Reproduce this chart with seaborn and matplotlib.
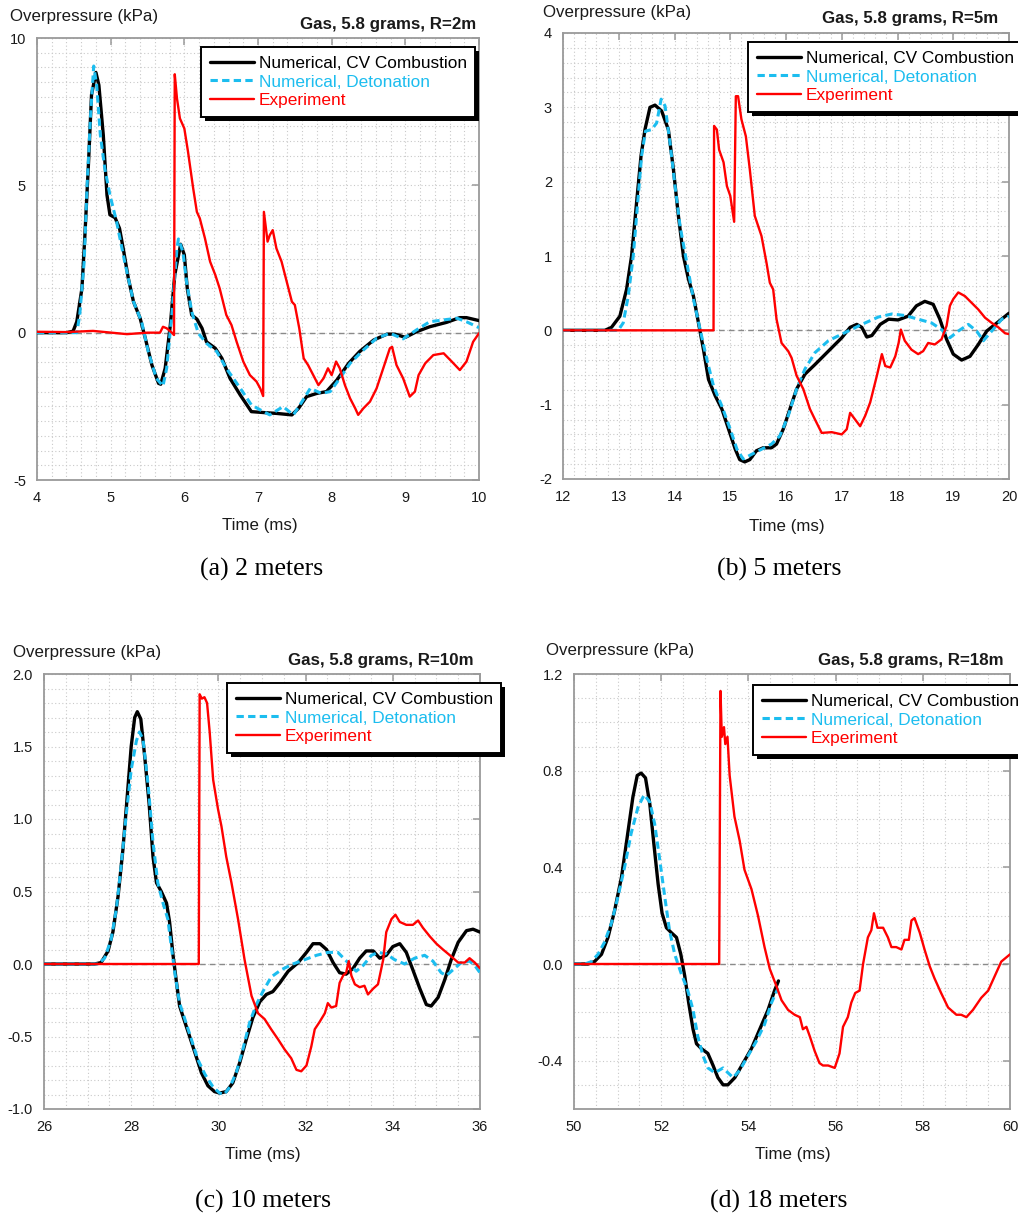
import matplotlib
matplotlib.use("Agg")
import matplotlib.pyplot as plt
import pandas as pd
import seaborn as sns
from matplotlib.ticker import MultipleLocator, FormatStrFormatter
from matplotlib.patches import Rectangle
from matplotlib.transforms import IdentityTransform

# ---------------- data ----------------
# (a) R = 2 m
a_cv_t = [4.0, 4.40, 4.49, 4.54, 4.61, 4.65, 4.70, 4.74, 4.80, 4.84, 4.90, 4.95, 4.99, 5.06, 5.12, 5.17, 5.24, 5.31, 5.40, 5.47, 5.56, 5.65, 5.68, 5.74, 5.81, 5.87, 5.95, 6.00, 6.04, 6.10, 6.17, 6.24, 6.30, 6.42, 6.51, 6.62, 6.76, 6.91, 7.07, 7.25, 7.46, 7.55, 7.66, 7.80, 7.93, 8.07, 8.23, 8.38, 8.57, 8.75, 8.86, 9.00, 9.15, 9.33, 9.56, 9.74, 9.83, 10.0]
a_cv_p = [0, 0, 0.05, 0.37, 1.5, 3.3, 5.8, 8.07, 8.83, 8.4, 6.7, 4.67, 4.0, 3.9, 3.54, 2.86, 1.84, 1.05, 0.49, -0.19, -1.1, -1.72, -1.75, -1.21, 0.26, 1.96, 3.0, 2.64, 1.5, 0.6, 0.46, 0.15, -0.31, -0.53, -0.87, -1.55, -2.12, -2.68, -2.71, -2.74, -2.79, -2.57, -2.17, -2.06, -2.0, -1.61, -1.04, -0.64, -0.25, -0.05, -0.05, -0.16, 0.03, 0.2, 0.35, 0.51, 0.51, 0.41]
a_det_t = [4.0, 4.54, 4.58, 4.64, 4.68, 4.73, 4.77, 4.81, 4.86, 4.92, 4.99, 5.08, 5.19, 5.31, 5.42, 5.51, 5.62, 5.71, 5.76, 5.83, 5.90, 5.92, 5.98, 6.03, 6.10, 6.19, 6.30, 6.44, 6.57, 6.76, 6.91, 7.03, 7.16, 7.34, 7.48, 7.57, 7.71, 7.86, 7.98, 8.11, 8.25, 8.43, 8.61, 8.79, 8.97, 9.15, 9.33, 9.51, 9.70, 9.83, 10.0]
a_det_p = [0, 0, 0.6, 2.4, 5.0, 7.5, 9.05, 8.4, 6.7, 5.58, 4.67, 3.77, 2.41, 1.05, 0.37, -0.64, -1.55, -1.81, -1.21, 0.6, 2.86, 3.18, 2.75, 1.73, 0.71, -0.02, -0.36, -0.64, -1.21, -1.89, -2.45, -2.62, -2.79, -2.51, -2.79, -2.45, -1.89, -2.06, -2.0, -1.55, -1.04, -0.59, -0.19, -0.02, -0.21, 0.09, 0.37, 0.43, 0.49, 0.37, 0.17]
a_exp_t = [4.0, 4.4, 4.76, 5.22, 5.5, 5.67, 5.71, 5.76, 5.83, 5.86, 5.87, 5.90, 5.94, 6.0, 6.05, 6.12, 6.17, 6.21, 6.28, 6.35, 6.42, 6.48, 6.57, 6.64, 6.71, 6.80, 6.89, 6.98, 7.03, 7.07, 7.08, 7.13, 7.16, 7.20, 7.25, 7.32, 7.39, 7.46, 7.50, 7.56, 7.62, 7.68, 7.75, 7.82, 7.89, 7.95, 8.0, 8.06, 8.11, 8.18, 8.25, 8.32, 8.36, 8.43, 8.52, 8.61, 8.70, 8.79, 8.82, 8.88, 8.97, 9.06, 9.13, 9.18, 9.27, 9.38, 9.52, 9.63, 9.74, 9.83, 9.92, 10.0]
a_exp_p = [0.03, 0.02, 0.06, -0.05, 0.0, 0.0, 0.2, 0.15, 0.0, -0.08, 8.77, 7.95, 7.27, 6.93, 6.14, 4.9, 4.1, 3.88, 3.2, 2.41, 1.96, 1.5, 0.6, 0.26, -0.31, -0.98, -1.44, -1.66, -1.89, -2.15, 4.1, 3.09, 3.31, 3.48, 2.86, 2.41, 1.73, 1.05, 0.94, 0.15, -0.87, -1.1, -1.44, -1.78, -1.55, -1.21, -1.44, -0.98, -1.21, -1.78, -2.23, -2.57, -2.79, -2.57, -2.34, -1.89, -1.21, -0.53, -0.48, -1.1, -1.55, -2.17, -2.0, -1.44, -1.04, -0.76, -0.70, -0.98, -1.27, -0.98, -0.31, -0.02]

# (b) R = 5 m
b_cv_t = [12.0, 12.75, 12.87, 13.02, 13.14, 13.23, 13.32, 13.40, 13.47, 13.56, 13.65, 13.77, 13.89, 13.98, 14.07, 14.16, 14.25, 14.34, 14.43, 14.52, 14.61, 14.73, 14.85, 14.97, 15.09, 15.17, 15.26, 15.35, 15.47, 15.59, 15.74, 15.83, 15.95, 16.07, 16.19, 16.34, 16.52, 16.76, 17.0, 17.15, 17.27, 17.36, 17.45, 17.54, 17.69, 17.84, 18.01, 18.19, 18.34, 18.49, 18.64, 18.76, 18.88, 19.0, 19.15, 19.30, 19.45, 19.60, 19.75, 19.90, 20.0]
b_cv_p = [0, 0, 0.04, 0.19, 0.55, 1.0, 1.72, 2.35, 2.70, 3.0, 3.03, 2.95, 2.70, 2.17, 1.54, 1.0, 0.69, 0.46, 0.10, -0.26, -0.66, -0.88, -1.06, -1.33, -1.60, -1.74, -1.77, -1.74, -1.62, -1.58, -1.58, -1.53, -1.33, -1.06, -0.79, -0.59, -0.46, -0.28, -0.10, 0.04, 0.08, 0.04, -0.09, -0.07, 0.08, 0.15, 0.14, 0.19, 0.33, 0.39, 0.35, 0.15, -0.12, -0.32, -0.40, -0.35, -0.19, -0.01, 0.08, 0.17, 0.23]
b_det_t = [12.0, 12.99, 13.08, 13.17, 13.26, 13.34, 13.41, 13.48, 13.59, 13.68, 13.76, 13.83, 13.92, 14.01, 14.10, 14.22, 14.34, 14.46, 14.58, 14.70, 14.85, 15.00, 15.12, 15.23, 15.38, 15.56, 15.74, 15.89, 16.04, 16.19, 16.34, 16.52, 16.76, 17.06, 17.36, 17.66, 17.90, 18.13, 18.37, 18.61, 18.79, 18.94, 19.09, 19.27, 19.42, 19.54, 19.69, 19.87, 20.0]
b_det_p = [0, 0, 0.10, 0.46, 1.0, 1.72, 2.35, 2.68, 2.70, 2.79, 3.11, 3.02, 2.52, 1.94, 1.40, 0.91, 0.42, 0.01, -0.39, -0.75, -1.02, -1.33, -1.60, -1.73, -1.67, -1.60, -1.53, -1.42, -1.15, -0.79, -0.52, -0.30, -0.14, -0.03, 0.08, 0.18, 0.22, 0.20, 0.15, 0.10, 0.01, -0.10, -0.01, 0.08, -0.01, -0.14, -0.01, 0.15, 0.19]
b_exp_t = [12.0, 13.0, 14.0, 14.70, 14.71, 14.76, 14.80, 14.88, 14.94, 15.00, 15.07, 15.10, 15.14, 15.20, 15.28, 15.35, 15.44, 15.56, 15.65, 15.71, 15.77, 15.83, 15.92, 16.04, 16.10, 16.19, 16.31, 16.43, 16.52, 16.64, 16.82, 17.00, 17.09, 17.15, 17.24, 17.33, 17.42, 17.51, 17.57, 17.63, 17.72, 17.78, 17.87, 17.96, 18.02, 18.06, 18.13, 18.25, 18.37, 18.46, 18.55, 18.67, 18.79, 18.88, 18.94, 19.00, 19.09, 19.21, 19.33, 19.45, 19.57, 19.69, 19.81, 19.93, 20.0]
b_exp_p = [0, 0, 0, 0, 2.75, 2.70, 2.43, 2.26, 1.94, 1.81, 1.46, 3.15, 3.15, 2.84, 2.61, 2.17, 1.54, 1.27, 0.91, 0.64, 0.55, 0.15, -0.17, -0.28, -0.37, -0.61, -0.79, -1.06, -1.20, -1.38, -1.37, -1.40, -1.33, -1.11, -1.20, -1.29, -1.15, -0.97, -0.79, -0.61, -0.32, -0.48, -0.50, -0.35, -0.17, 0.01, -0.14, -0.26, -0.32, -0.28, -0.17, -0.19, -0.12, 0.06, 0.33, 0.42, 0.51, 0.46, 0.37, 0.28, 0.17, 0.10, 0.04, -0.04, -0.05]

# (c) R = 10 m
c_cv_t = [26.0, 27.16, 27.31, 27.47, 27.58, 27.70, 27.81, 27.91, 28.0, 28.08, 28.14, 28.22, 28.31, 28.41, 28.50, 28.58, 28.69, 28.81, 28.88, 28.96, 29.04, 29.11, 29.23, 29.34, 29.46, 29.61, 29.76, 29.91, 30.03, 30.18, 30.33, 30.49, 30.64, 30.79, 30.95, 31.10, 31.25, 31.41, 31.60, 31.83, 32.02, 32.17, 32.33, 32.48, 32.63, 32.78, 32.93, 33.09, 33.24, 33.39, 33.55, 33.70, 33.85, 34.0, 34.16, 34.31, 34.46, 34.62, 34.77, 34.88, 35.04, 35.19, 35.34, 35.50, 35.69, 35.84, 36.0]
c_cv_p = [0, 0, 0.01, 0.09, 0.22, 0.47, 0.79, 1.16, 1.50, 1.70, 1.74, 1.69, 1.43, 1.11, 0.74, 0.56, 0.50, 0.42, 0.29, 0.06, -0.13, -0.29, -0.40, -0.50, -0.61, -0.75, -0.84, -0.88, -0.89, -0.88, -0.82, -0.68, -0.52, -0.37, -0.26, -0.21, -0.19, -0.13, -0.05, 0.01, 0.08, 0.14, 0.14, 0.10, 0.01, -0.06, -0.07, -0.03, 0.04, 0.09, 0.09, 0.04, 0.06, 0.12, 0.14, 0.08, -0.04, -0.17, -0.28, -0.29, -0.23, -0.11, 0.03, 0.15, 0.23, 0.24, 0.22]
c_det_t = [26.0, 27.24, 27.39, 27.54, 27.66, 27.77, 27.89, 28.0, 28.12, 28.19, 28.27, 28.39, 28.50, 28.61, 28.73, 28.84, 28.92, 29.01, 29.11, 29.23, 29.38, 29.53, 29.69, 29.88, 30.03, 30.13, 30.26, 30.41, 30.56, 30.72, 30.87, 31.02, 31.21, 31.44, 31.71, 31.98, 32.25, 32.51, 32.74, 32.97, 33.16, 33.32, 33.51, 33.66, 33.85, 34.04, 34.27, 34.50, 34.73, 34.92, 35.11, 35.23, 35.38, 35.57, 35.76, 35.88, 36.0]
c_det_p = [0, 0, 0.04, 0.17, 0.38, 0.68, 1.04, 1.34, 1.54, 1.60, 1.55, 1.23, 0.84, 0.56, 0.42, 0.31, 0.12, -0.08, -0.27, -0.38, -0.52, -0.66, -0.76, -0.85, -0.89, -0.90, -0.85, -0.75, -0.59, -0.40, -0.28, -0.19, -0.09, -0.04, 0.0, 0.03, 0.06, 0.08, 0.08, 0.01, -0.05, -0.01, 0.06, 0.08, 0.07, 0.03, 0.0, 0.04, 0.06, 0.02, -0.06, -0.08, -0.04, 0.01, 0.02, -0.01, -0.06]
c_exp_t = [26.0, 28.0, 29.55, 29.57, 29.62, 29.68, 29.74, 29.80, 29.88, 29.99, 30.07, 30.18, 30.30, 30.45, 30.60, 30.76, 30.91, 31.06, 31.21, 31.37, 31.52, 31.67, 31.79, 31.90, 32.02, 32.13, 32.21, 32.32, 32.44, 32.51, 32.59, 32.70, 32.78, 32.86, 32.93, 32.99, 33.05, 33.13, 33.24, 33.35, 33.43, 33.55, 33.66, 33.78, 33.85, 33.97, 34.06, 34.16, 34.31, 34.46, 34.58, 34.69, 34.85, 35.0, 35.15, 35.31, 35.50, 35.65, 35.76, 35.88, 36.0]
c_exp_p = [0, 0, 0, 1.86, 1.83, 1.84, 1.80, 1.60, 1.27, 1.07, 0.95, 0.74, 0.56, 0.31, 0.03, -0.22, -0.34, -0.38, -0.45, -0.52, -0.59, -0.65, -0.73, -0.74, -0.70, -0.57, -0.45, -0.40, -0.34, -0.27, -0.30, -0.29, -0.13, -0.08, -0.06, 0.02, -0.08, -0.14, -0.16, -0.15, -0.21, -0.17, -0.14, 0.03, 0.22, 0.31, 0.34, 0.29, 0.27, 0.27, 0.30, 0.25, 0.19, 0.14, 0.10, 0.06, 0.01, 0.01, 0.04, 0.01, -0.03]

# (d) R = 18 m
d_cv_t = [50.0, 50.32, 50.47, 50.63, 50.78, 50.93, 51.09, 51.24, 51.35, 51.45, 51.54, 51.64, 51.74, 51.83, 51.93, 52.02, 52.12, 52.23, 52.35, 52.45, 52.54, 52.63, 52.73, 52.81, 52.92, 53.07, 53.19, 53.30, 53.42, 53.53, 53.69, 53.88, 54.07, 54.26, 54.45, 54.60, 54.69]
d_cv_p = [0, 0, 0.01, 0.04, 0.11, 0.22, 0.36, 0.55, 0.69, 0.78, 0.79, 0.77, 0.66, 0.50, 0.33, 0.21, 0.15, 0.13, 0.11, 0.04, -0.05, -0.16, -0.27, -0.33, -0.35, -0.37, -0.42, -0.47, -0.50, -0.50, -0.47, -0.41, -0.35, -0.27, -0.19, -0.11, -0.07]
d_det_t = [50.0, 50.25, 50.40, 50.55, 50.70, 50.86, 51.01, 51.16, 51.31, 51.47, 51.61, 51.74, 51.85, 51.96, 52.08, 52.19, 52.31, 52.46, 52.61, 52.73, 52.84, 52.96, 53.07, 53.23, 53.42, 53.53, 53.65, 53.80, 53.99, 54.18, 54.37, 54.53, 54.68]
d_det_p = [0, 0, 0.01, 0.04, 0.09, 0.17, 0.28, 0.40, 0.54, 0.65, 0.70, 0.67, 0.58, 0.44, 0.28, 0.14, 0.04, -0.04, -0.11, -0.19, -0.30, -0.38, -0.43, -0.45, -0.43, -0.45, -0.47, -0.44, -0.38, -0.32, -0.25, -0.16, -0.10]
d_exp_t = [50.0, 52.0, 53.33, 53.36, 53.39, 53.44, 53.47, 53.52, 53.57, 53.68, 53.80, 53.91, 54.07, 54.22, 54.37, 54.49, 54.64, 54.76, 54.91, 55.06, 55.18, 55.25, 55.33, 55.41, 55.52, 55.63, 55.71, 55.83, 55.98, 56.09, 56.17, 56.28, 56.36, 56.45, 56.55, 56.63, 56.74, 56.82, 56.88, 56.96, 57.09, 57.20, 57.28, 57.39, 57.51, 57.58, 57.68, 57.74, 57.81, 57.93, 58.04, 58.16, 58.27, 58.42, 58.58, 58.77, 58.88, 59.00, 59.15, 59.34, 59.50, 59.65, 59.80, 60.0]
d_exp_p = [0, 0, 0, 1.13, 0.94, 0.98, 0.91, 0.94, 0.78, 0.61, 0.51, 0.39, 0.31, 0.20, 0.07, -0.02, -0.09, -0.15, -0.19, -0.21, -0.22, -0.27, -0.26, -0.30, -0.36, -0.41, -0.42, -0.42, -0.43, -0.37, -0.26, -0.22, -0.16, -0.12, -0.11, 0.0, 0.11, 0.14, 0.21, 0.15, 0.15, 0.11, 0.07, 0.07, 0.06, 0.10, 0.10, 0.18, 0.19, 0.13, 0.06, -0.01, -0.06, -0.12, -0.18, -0.21, -0.21, -0.22, -0.19, -0.14, -0.11, -0.05, 0.01, 0.04]

series_labels = ["Numerical, CV Combustion", "Numerical, Detonation", "Experiment"]
titles = ["Gas, 5.8 grams, R=2m", "Gas, 5.8 grams, R=5m",
          "Gas, 5.8 grams, R=10m", "Gas, 5.8 grams, R=18m"]
captions = ["(a) 2 meters", "(b) 5 meters", "(c) 10 meters", "(d) 18 meters"]
y_label = "Overpressure (kPa)"
x_label = "Time (ms)"

# ---------------- style ----------------
sns.set_theme(style="white")
plt.rcParams["font.family"] = ["Liberation Sans", "DejaVu Sans"]

W, H = 1018, 1216
fig = plt.figure(figsize=(W / 100, H / 100), dpi=100)

C_CV = "#000000"
C_DET = "#1CBDEF"
C_EXP = "#FF0000"
GRID = "#c9c9c9"
SPINE = "#9a9a9a"

panels = [
    dict(data=[(a_cv_t, a_cv_p), (a_det_t, a_det_p), (a_exp_t, a_exp_p)],
         box=(37, 38, 479, 480), xlim=(4, 10), ylim=(-5, 10), xmaj=1, xmin=0.2,
         ymin=0.5, yfmt="%d", yticks=[-5, 0, 5, 10],
         ylab=(10, 17), title=(476, 25), xlab=(260, 525), cap=(262, 569),
         leg=(201, 47)),
    dict(data=[(b_cv_t, b_cv_p), (b_det_t, b_det_p), (b_exp_t, b_exp_p)],
         box=(563, 33, 1009, 479), xlim=(12, 20), ylim=(-2, 4), xmaj=1, xmin=0.2,
         ymin=0.2, yfmt="%d", yticks=[-2, -1, 0, 1, 2, 3, 4],
         ylab=(543, 12), title=(998, 19), xlab=(787, 526), cap=(779, 569),
         leg=(748, 42)),
    dict(data=[(c_cv_t, c_cv_p), (c_det_t, c_det_p), (c_exp_t, c_exp_p)],
         box=(44, 674, 480, 1109), xlim=(26, 36), ylim=(-1, 2), xmaj=2, xmin=0.5,
         ymin=0.1, yfmt="%.1f", yticks=[-1.0, -0.5, 0.0, 0.5, 1.0, 1.5, 2.0],
         ylab=(13, 652), title=(473, 661), xlab=(263, 1155), cap=(263, 1201),
         leg=(227, 683)),
    dict(data=[(d_cv_t, d_cv_p), (d_det_t, d_det_p), (d_exp_t, d_exp_p)],
         box=(574, 674, 1010, 1109), xlim=(50, 60), ylim=(-0.6, 1.2), xmaj=2, xmin=0.5,
         ymin=0.1, yfmt="%.1f", yticks=[-0.4, 0.0, 0.4, 0.8, 1.2],
         ylab=(546, 651), title=(1004, 660), xlab=(793, 1155), cap=(779, 1201),
         leg=(753, 685)),
]

styles = [
    dict(color=C_CV, linewidth=2.4, linestyle="-"),
    dict(color=C_DET, linewidth=2.2, linestyle=(0, (2.4, 1.4))),
    dict(color=C_EXP, linewidth=1.7, linestyle="-"),
]

legends = []
for i, pnl in enumerate(panels):
    l, t, r, b = pnl["box"]
    ax = fig.add_axes([l / W, 1 - b / H, (r - l) / W, (b - t) / H])
    ax.set_facecolor("white")

    ax.axhline(0, color="#8a8a8a", lw=1.0, ls=(0, (4, 3)), zorder=1)

    handles = []
    for (tt, pp), st, lab in zip(pnl["data"], styles, series_labels):
        df = pd.DataFrame({"t": tt, "p": pp})
        sns.lineplot(data=df, x="t", y="p", ax=ax, sort=False, estimator=None,
                     label=lab, zorder=3, **st)
        handles.append(ax.lines[-1])

    ax.set_xlim(*pnl["xlim"])
    ax.set_ylim(*pnl["ylim"])
    ax.xaxis.set_major_locator(MultipleLocator(pnl["xmaj"]))
    ax.xaxis.set_minor_locator(MultipleLocator(pnl["xmin"]))
    ax.set_yticks(pnl["yticks"])
    ax.yaxis.set_minor_locator(MultipleLocator(pnl["ymin"]))
    ax.yaxis.set_major_formatter(FormatStrFormatter(pnl["yfmt"]))
    ax.xaxis.set_major_formatter(FormatStrFormatter("%d"))

    ax.grid(True, which="both", color=GRID, lw=0.8, ls=(0, (1, 2.2)), zorder=0)
    ax.set_axisbelow(True)
    for sp in ax.spines.values():
        sp.set_color(SPINE)
        sp.set_linewidth(1.3)
    ax.tick_params(which="major", direction="in", length=5, width=1.1, color=SPINE,
                   top=True, right=True, labelsize=10.5, labelcolor="#1a1a1a")
    ax.tick_params(axis="y", which="major", pad=8)
    ax.tick_params(axis="x", which="major", pad=8)
    ax.tick_params(which="minor", length=0)
    ax.set_xlabel("")
    ax.set_ylabel("")

    lx, ly = pnl["leg"]
    leg = ax.legend(handles, series_labels, loc="upper left",
                    bbox_to_anchor=(lx / W, 1 - ly / H), bbox_transform=fig.transFigure,
                    frameon=True, fancybox=False, framealpha=1, edgecolor="black",
                    shadow=False, fontsize=12.4,
                    handlelength=2.6, handletextpad=0.25, labelspacing=0.22,
                    borderpad=0.5, borderaxespad=0, labelcolor="linecolor")
    leg.get_frame().set_linewidth(1.4)
    leg.set_zorder(10)
    legends.append((ax, leg))

    x0, y0 = pnl["ylab"]
    fig.text(x0 / W, 1 - y0 / H, y_label, ha="left", va="center", fontsize=12.2, color="#1a1a1a")
    x0, y0 = pnl["title"]
    fig.text(x0 / W, 1 - y0 / H, titles[i], ha="right", va="center", fontsize=12.2,
             fontweight="bold", color="#1a1a1a")
    x0, y0 = pnl["xlab"]
    fig.text(x0 / W, 1 - y0 / H, x_label, ha="center", va="center", fontsize=12.2, color="#1a1a1a")
    x0, y0 = pnl["cap"]
    fig.text(x0 / W, 1 - y0 / H, captions[i], ha="center", va="center", fontsize=18.5,
             family=["Liberation Serif", "DejaVu Serif"], color="black")

# solid black drop shadow behind each legend box
fig.canvas.draw()
renderer = fig.canvas.get_renderer()
for ax, leg in legends:
    bb = leg.get_frame().get_window_extent(renderer)
    sh = Rectangle((bb.x0 + 4, bb.y0 - 4), bb.width, bb.height, transform=IdentityTransform(),
                   facecolor="black", edgecolor="none", zorder=9.5, clip_on=False)
    ax.add_artist(sh)

fig.savefig("out.png", dpi=100)
